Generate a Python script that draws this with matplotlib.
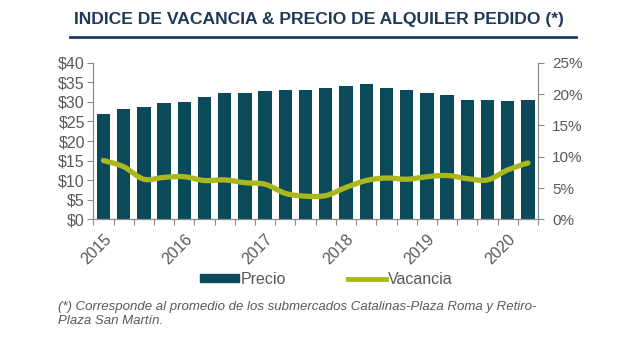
import numpy as np
import matplotlib
matplotlib.use("Agg")
import matplotlib.pyplot as plt
from matplotlib.path import Path
from matplotlib.patches import PathPatch, Patch
from matplotlib.lines import Line2D

# quarterly series, 2015 - 2020
years = ["2015", "2016", "2017", "2018", "2019", "2020"]
precio = [26.9, 28.1, 28.6, 29.6, 30.0, 31.2, 32.2, 32.3, 32.9, 33.1, 33.1,
          33.6, 34.1, 34.6, 33.6, 33.1, 32.2, 31.7, 30.6, 30.6, 30.2, 30.4]
vacancia = [9.4, 8.4, 6.4, 6.7, 6.8, 6.2, 6.3, 5.85, 5.6, 4.15, 3.7,
            3.8, 5.1, 6.2, 6.6, 6.4, 6.8, 7.0, 6.5, 6.3, 7.9, 9.0]

BAR = "#0b4a5b"
LINE = "#aab81d"
NAVY = "#1f3a58"
GREY = "#595959"
AXC = "#8c8c8c"

plt.rcParams['font.family'] = ['Liberation Sans', 'DejaVu Sans']


def smooth_path(xs, ys, t=1/6.):
    # catmull-rom style bezier through the points (like excel "smoothed line")
    xs = np.asarray(xs, float)
    ys = np.asarray(ys, float)
    pts = np.column_stack([xs, ys])
    verts = [pts[0]]
    codes = [Path.MOVETO]
    npt = len(pts)
    for i in range(npt - 1):
        p0 = pts[max(i - 1, 0)]
        p1 = pts[i]
        p2 = pts[i + 1]
        p3 = pts[min(i + 2, npt - 1)]
        c1 = p1 + (p2 - p0) * t
        c2 = p2 - (p3 - p1) * t
        verts += [c1, c2, p2]
        codes += [Path.CURVE4] * 3
    return Path(verts, codes)


fig = plt.figure(figsize=(6.4, 3.38), dpi=100)
ax = fig.add_axes([0.1458, 0.351, 0.695, 0.4635])
ax2 = ax.twinx()

x = np.arange(len(precio))
ax.bar(x, precio, width=0.66, color=BAR, zorder=2)
ax.set_xlim(-0.5, len(precio) - 0.5)
ax.set_ylim(0, 40)
ax.set_yticks(np.arange(0, 41, 5))
ax.set_yticklabels(["$%d" % v for v in range(0, 41, 5)])

ax2.set_ylim(0, 25)
ax2.set_yticks(np.arange(0, 26, 5))
ax2.set_yticklabels(["%d%%" % v for v in range(0, 26, 5)])
ax2.add_patch(PathPatch(smooth_path(x, vacancia), fill=False, edgecolor=LINE,
                        lw=3.8, capstyle='round', joinstyle='round', zorder=3))

# category ticks sit between bars, year labels on every 4th quarter
ax.set_xticks(np.arange(-0.5, len(precio), 1.0))
ax.set_xticklabels([])
ax.set_xticks(np.arange(0, len(precio), 4), minor=True)
ax.set_xticklabels(years, minor=True, rotation=45, ha='right', va='top',
                   rotation_mode='anchor', fontsize=11.5, color=GREY)
ax.tick_params(axis='x', which='minor', length=0, pad=9)
ax.tick_params(axis='x', which='major', length=4, color=AXC, width=0.8)

for a in (ax, ax2):
    a.spines['top'].set_visible(False)
    for s in ('left', 'right', 'bottom'):
        a.spines[s].set_color(AXC)
        a.spines[s].set_linewidth(0.8)
ax.tick_params(axis='y', length=4, color=AXC, width=0.8, labelsize=11.5,
               labelcolor=GREY, pad=2)
ax2.tick_params(axis='y', length=4, color=AXC, width=0.8, labelsize=11,
                labelcolor=GREY, pad=6)

fig.text(0.4977, 0.941, "INDICE DE VACANCIA & PRECIO DE ALQUILER PEDIDO (*)",
         ha='center', va='center', fontsize=12.6, fontweight='bold', color=NAVY)
fig.add_artist(Line2D([70 / 640, 576 / 640], [0.8905, 0.8905], color=NAVY, lw=2))

handles = [Patch(color=BAR), Line2D([0], [0], color=LINE, lw=3.5)]
fig.legend(handles, ["Precio", "Vacancia"], loc='center', ncol=2,
           bbox_to_anchor=(0.51, 1 - 279 / 338), frameon=False, fontsize=11.5,
           handlelength=2.4, handleheight=0.45, handletextpad=0.1,
           columnspacing=3.9, labelcolor=GREY)

fig.text(58 / 640, 1 - 314 / 338,
         "(*) Corresponde al promedio de los submercados Catalinas-Plaza Roma y Retiro-\nPlaza San Martín.",
         ha='left', va='center', fontsize=9.55, style='italic', color=GREY,
         linespacing=1.2)

fig.savefig("out.png", dpi=100)
